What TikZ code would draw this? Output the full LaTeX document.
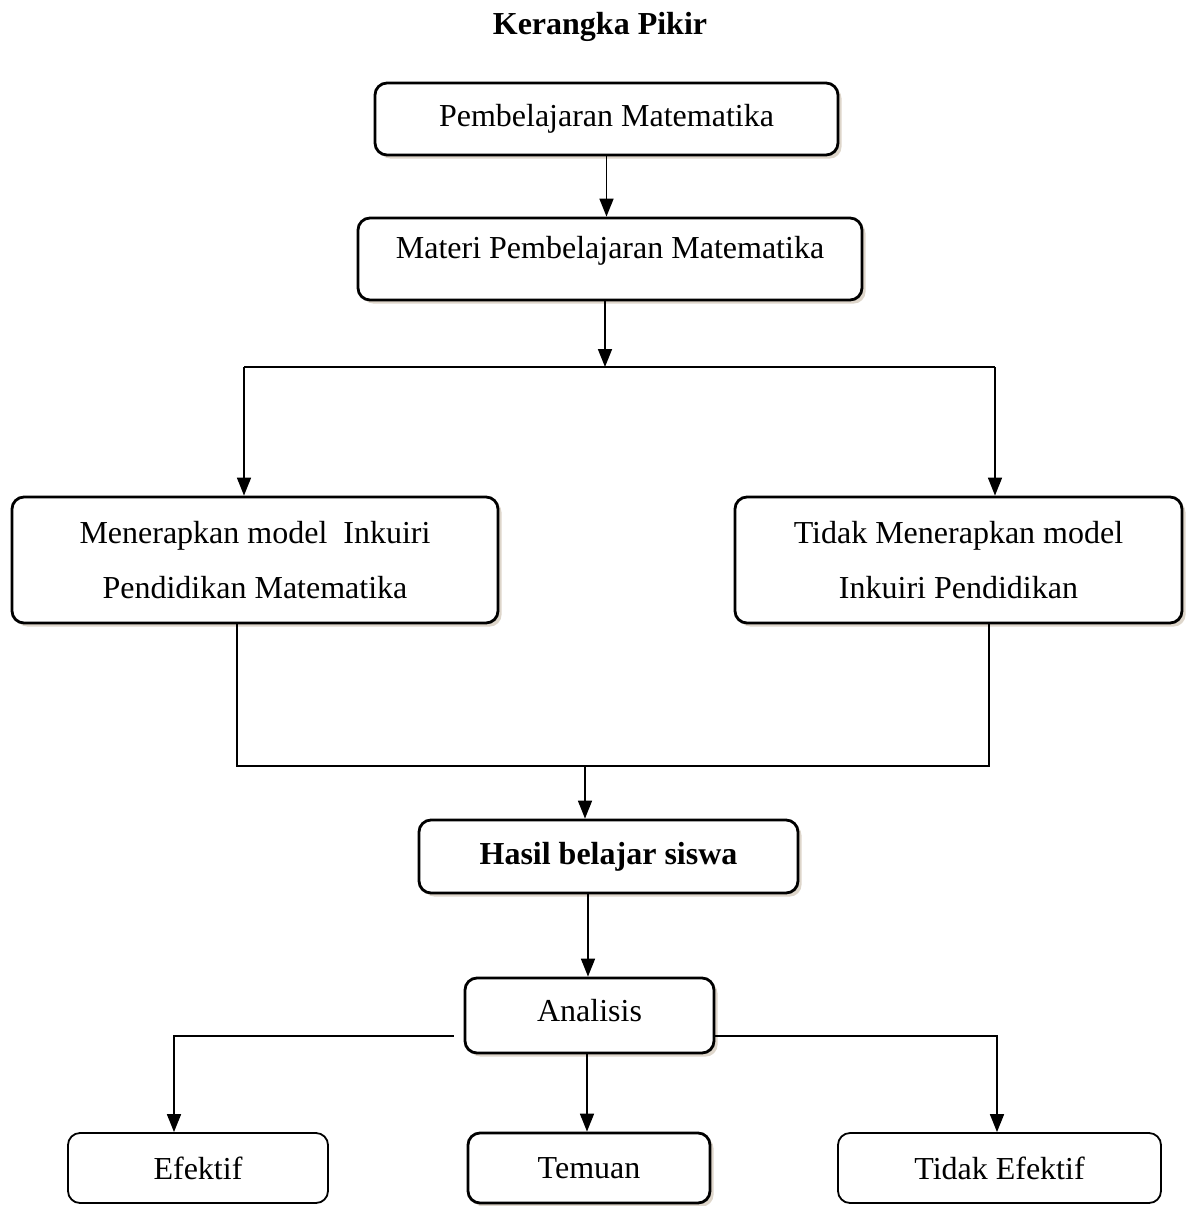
\documentclass[tikz,border=0pt]{standalone}
\usepackage{fontspec}
\setmainfont{Liberation Serif}
\usepackage{tikz}
\usetikzlibrary{arrows.meta, shadows}
\definecolor{shadowtan}{RGB}{214,204,190}
\tikzset{
    box/.style={draw, rounded corners=6pt, line width=1.4pt, fill=white, align=center,
        font=\fontsize{16}{27.5}\selectfont,
        drop shadow={shadow xshift=1.8pt, shadow yshift=-1.8pt, fill=shadowtan, opacity=0.8}},
    plainbox/.style={draw, rounded corners=6pt, line width=0.9pt, fill=white, align=center,
        font=\fontsize{16}{19}\selectfont},
    flow/.style={line width=0.8pt, -{Triangle[width=7pt,length=9pt]}},
    link/.style={line width=0.8pt}
}
\begin{document}
\begin{tikzpicture}[x=0.5pt, y=-0.5pt]
    \useasboundingbox (0,0) rectangle (1187,1206);

    \node[font=\fontsize{16}{19}\selectfont\bfseries] (title) at (600,27) {Kerangka Pikir};

    % upper part
    \node[box, minimum width=231.5pt, minimum height=36pt] (pm) at (606.5,119) {Pembelajaran Matematika};
    \node[box, minimum width=252pt, minimum height=41pt, text depth=12pt] (mpm) at (610,259) {Materi Pembelajaran Matematika};

    \node[box, minimum width=243pt, minimum height=63pt] (ya) at (255,560) {Menerapkan model~ Inkuiri\\Pendidikan Matematika};
    \node[box, minimum width=223.5pt, minimum height=63pt] (tidak) at (958.5,560) {Tidak Menerapkan model\\Inkuiri Pendidikan};

    \coordinate (split) at (605,367);
    \coordinate (splitl) at (244,367);
    \coordinate (splitr) at (995,367);

    \draw[flow] (pm.south) -- (pm.south |- mpm.north);
    \draw[flow] (mpm.south -| split) -- (split);
    \draw[link] (splitl) -- (splitr);
    \draw[flow] (splitl) -- (splitl |- ya.north);
    \draw[flow] (splitr) -- (splitr |- tidak.north);

    % join
    \node[box, minimum width=189.5pt, minimum height=36.5pt, font=\fontsize{16}{19}\selectfont\bfseries] (hasil) at (608.5,856.5) {Hasil belajar siswa};
    \coordinate (joinl) at (237,766);
    \coordinate (joinr) at (989,766);
    \coordinate (join) at (585,766);

    \draw[link] (joinl |- ya.south) -- (joinl) -- (joinr) -- (joinr |- tidak.south);
    \draw[flow] (join) -- (join |- hasil.north);

    % analysis
    \node[box, minimum width=124.5pt, minimum height=37.5pt, text depth=5pt] (analisis) at (589.5,1015.5) {Analisis};
    \draw[flow] (hasil.south -| 588,0) -- (analisis.north -| 588,0);

    \node[plainbox, minimum width=130pt, minimum height=35pt] (efektif) at (198,1168) {Efektif};
    \node[box, minimum width=121pt, minimum height=35pt] (temuan) at (589,1168) {Temuan};
    \node[plainbox, minimum width=161.5pt, minimum height=35pt] (tidakef) at (999.5,1168) {Tidak Efektif};

    \coordinate (brl) at (174,1036);
    \coordinate (brr) at (997,1036);

    \draw[flow] (analisis.west |- brl) ++(-10,0) -- (brl) -- (brl |- efektif.north);
    \draw[flow] (analisis.east |- brr) -- (brr) -- (brr |- efektif.north);
    \draw[flow] (analisis.south -| 587,0) -- (temuan.north -| 587,0);
\end{tikzpicture}
\end{document}
